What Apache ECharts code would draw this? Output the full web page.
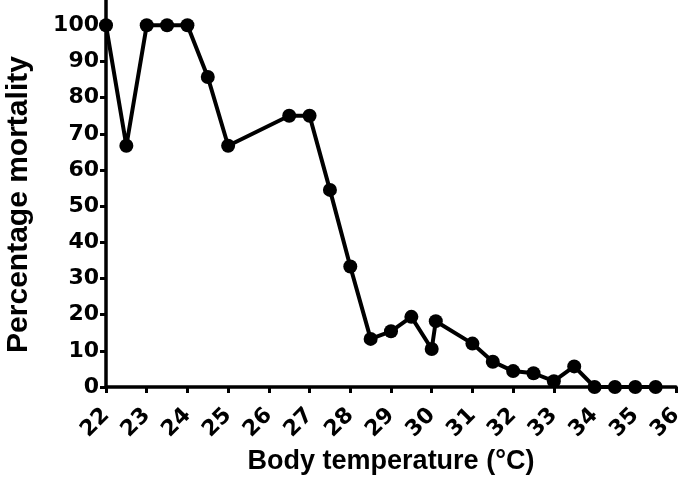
<!DOCTYPE html>
<html>
<head>
<meta charset="utf-8">
<script src="https://cdn.jsdelivr.net/npm/echarts@6/dist/echarts.min.js"></script>
<style>
html,body{margin:0;padding:0;background:#fff;}
#chart{width:686px;height:484px;}
</style>
</head>
<body>
<div id="chart"></div>
<script>
const temperatures = [22,22.5,23,23.5,24,24.5,25,26.5,27,27.5,28,28.5,29,29.5,30,30.1,31,31.5,32,32.5,33,33.5,34,34.5,35,35.5];
const mortality = [100,66.7,100,100,100,85.7,66.7,75,75,54.5,33.3,13.3,15.4,19.4,10.5,18.2,12,7,4.4,3.8,1.6,5.7,0,0,0,0];
const yTicks = [0,10,20,30,40,50,60,70,80,90,100];
const xTitle = 'Body temperature (°C)';
const yTitle = 'Percentage mortality';

const titleFont = 'Liberation Sans';
const tickFont = 'DejaVu Sans';
const chart = echarts.init(document.getElementById('chart'), null, {renderer:'canvas'});
chart.setOption({
  animation:false,
  backgroundColor:'#fff',
  grid:{left:106,right:10,top:0,bottom:97,containLabel:false,outerBoundsMode:'none'},
  xAxis:{
    type:'value',min:22,max:36,interval:1,
    name:xTitle,nameLocation:'middle',nameGap:61,
    nameTextStyle:{fontFamily:titleFont,fontWeight:'bold',fontSize:27,color:'#000'},
    axisLine:{lineStyle:{color:'#000',width:3.5}},
    axisTick:{show:true,inside:false,length:6,lineStyle:{color:'#000',width:3}},
    axisLabel:{rotate:45,margin:25,fontFamily:tickFont,fontWeight:'bold',fontSize:22,color:'#000'},
    splitLine:{show:false}
  },
  yAxis:{
    type:'value',min:0,max:107,
    name:yTitle,nameLocation:'middle',nameGap:72,
    nameTextStyle:{fontFamily:titleFont,fontWeight:'bold',fontSize:30,color:'#000',padding:[0,22,0,0]},
    axisLine:{show:true,lineStyle:{color:'#000',width:3.5}},
    axisTick:{show:true,length:6,lineStyle:{color:'#000',width:3},customValues:yTicks},
    axisLabel:{margin:7,fontFamily:tickFont,fontWeight:'bold',fontSize:22,color:'#000',customValues:yTicks},
    splitLine:{show:false}
  },
  series:[{
    type:'line',
    data:temperatures.map((t,i)=>[t,mortality[i]]),
    symbol:'circle',symbolSize:14,
    clip:false,
    lineStyle:{color:'#000',width:4},
    itemStyle:{color:'#000'}
  }]
});
</script>
</body>
</html>
